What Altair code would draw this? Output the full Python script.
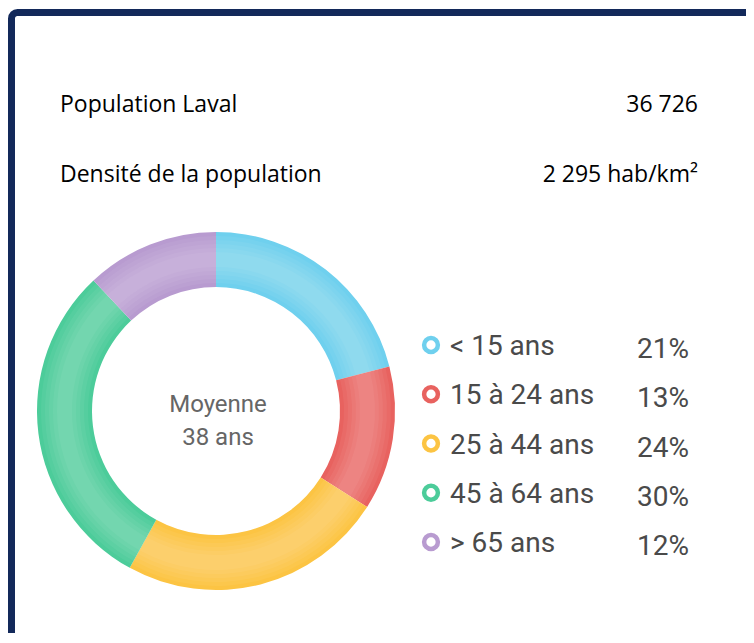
import altair as alt
import pandas as pd

# ---- data ----
categories = ["< 15 ans", "15 à 24 ans", "25 à 44 ans", "45 à 64 ans", "> 65 ans"]
shares = [21, 13, 24, 30, 12]
colors = ["#6fd0ee", "#e8625f", "#fcc443", "#4ccc9a", "#b89bd0"]

header_labels = ["Population Laval", "Densité de la population"]
header_values = ["36 726", "2 295 hab/km²"]
center_lines = ["Moyenne", "38 ans"]

W, H = 738, 625
CX, CY = 208, 403
R_OUT, R_IN = 179, 124

df = pd.DataFrame({
    "cat": categories,
    "share": shares,
    "order": list(range(len(categories))),
    "pct": [f"{s}%" for s in shares],
})
hdr = pd.DataFrame({"label": header_labels, "value": header_values, "row": [0, 1]})
ctr = pd.DataFrame({"line": center_lines, "row": [0, 1]})

color_scale = alt.Scale(domain=categories, range=colors)

# border frame (decoration)
frame = alt.Chart(alt.Data(values=[{}])).mark_rect(
    fillOpacity=0, stroke="#13295a", strokeWidth=7, cornerRadius=6
).encode(
    x=alt.value(3.5), x2=alt.value(1200), y=alt.value(4.5), y2=alt.value(1200)
)

# donut
donut = alt.Chart(df).mark_arc(radius=R_OUT, innerRadius=R_IN, stroke=None).encode(
    theta=alt.Theta("share:Q", stack=True),
    color=alt.Color("cat:N", scale=color_scale, legend=None),
    order=alt.Order("order:Q"),
    x=alt.value(CX), y=alt.value(CY),
)

# soft shading: stacked translucent white rings, lightest in the middle of the band
shade_layers = []
for k in range(1, 6):
    shade_layers.append(
        alt.Chart(df).mark_arc(
            radius=R_OUT - 4 * k, innerRadius=R_IN + 4 * k, color="white", opacity=0.05, stroke=None
        ).encode(
            theta=alt.Theta("share:Q", stack=True), order=alt.Order("order:Q"),
            x=alt.value(CX), y=alt.value(CY),
        )
    )

# center text
center = alt.Chart(ctr).mark_text(
    font="Roboto", fontSize=24, color="#666666", align="center", baseline="alphabetic"
).encode(
    text="line:N",
    x=alt.value(CX + 2),
    y=alt.Y("row:O", scale=alt.Scale(type="point", domain=[0, 1], range=[404, 437], padding=0), axis=None),
)

# header
hy = alt.Y("row:O", scale=alt.Scale(type="point", domain=[0, 1], range=[104, 174], padding=0), axis=None)
head_l = alt.Chart(hdr).mark_text(
    font="Open Sans", fontSize=23, color="#000000", align="left", baseline="alphabetic"
).encode(text="label:N", x=alt.value(52), y=hy)
head_r = alt.Chart(hdr).mark_text(
    font="Open Sans", fontSize=23, color="#000000", align="right", baseline="alphabetic"
).encode(text="value:N", x=alt.value(690), y=hy)

# legend
ly = alt.Y("cat:N", sort=categories, scale=alt.Scale(type="point", range=[337, 534], padding=0), axis=None)
markers = alt.Chart(df).mark_point(
    shape="circle", filled=False, size=190, strokeWidth=4.5, opacity=1
).encode(
    x=alt.value(423), y=ly,
    stroke=alt.Color("cat:N", scale=color_scale, legend=None),
)
labels = alt.Chart(df).mark_text(
    font="Roboto", fontSize=28, color="#4a4a4a", align="left", baseline="middle", dy=2
).encode(x=alt.value(442), y=ly, text="cat:N")
pcts = alt.Chart(df).mark_text(
    font="Roboto", fontSize=28, color="#4a4a4a", align="left", baseline="middle", dy=5
).encode(x=alt.value(629), y=ly, text="pct:N")

chart = alt.layer(
    frame, donut, *shade_layers, center, head_l, head_r, markers, labels, pcts
).resolve_scale(
    y="independent", x="independent", color="independent", stroke="independent", theta="independent"
).properties(
    width=W, height=H, autosize=alt.AutoSizeParams(type="none"), padding=0,
    background="white",
).configure_view(stroke=None)

chart.save("out.html", embed_options={"renderer": "svg", "actions": False})
